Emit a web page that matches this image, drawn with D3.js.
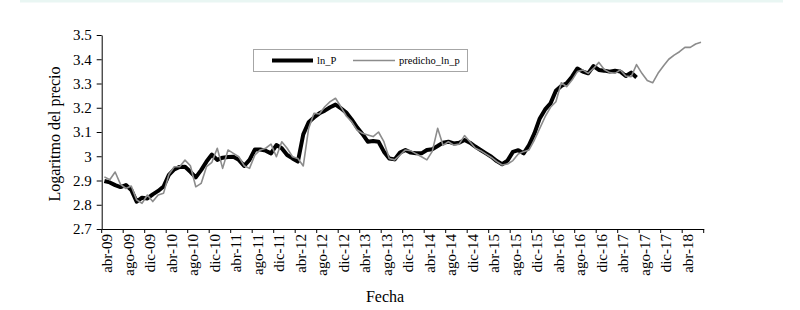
<!DOCTYPE html>
<html>
<head>
<meta charset="utf-8">
<script src="https://cdn.jsdelivr.net/npm/d3@7"></script>
<style>
  html, body { margin: 0; padding: 0; background: #fff; }
  svg { display: block; }
  svg text { font-family: "Liberation Serif", "Times New Roman", serif; }
</style>
</head>
<body>
<div id="chart"></div>
<script>
// month names used for the category labels (abr-09 ... jul-18)
const monthNames = ["ene", "feb", "mar", "abr", "may", "jun", "jul", "ago", "sep", "oct", "nov", "dic"];

// ln_P, monthly from abr-09 to jul-17
const lnP = [
  2.898, 2.892, 2.881, 2.873, 2.881, 2.861, 2.813, 2.829, 2.826, 2.843, 2.857, 2.875,
  2.923, 2.946, 2.956, 2.957, 2.936, 2.913, 2.943, 2.978, 3.007, 2.985, 2.994, 2.997,
  2.998, 2.985, 2.960, 2.985, 3.028, 3.028, 3.023, 3.012, 3.046, 3.033, 3.005, 2.991,
  2.978, 3.090, 3.140, 3.160, 3.177, 3.188, 3.202, 3.213, 3.198, 3.180, 3.152, 3.119,
  3.092, 3.060, 3.063, 3.060, 3.019, 2.991, 2.987, 3.015, 3.026, 3.015, 3.012, 3.012,
  3.026, 3.029, 3.042, 3.056, 3.060, 3.053, 3.056, 3.067, 3.056, 3.040, 3.026, 3.012,
  2.998, 2.980, 2.967, 2.982, 3.018, 3.025, 3.012, 3.046, 3.094, 3.156, 3.193, 3.218,
  3.270, 3.290, 3.301, 3.328, 3.362, 3.349, 3.342, 3.372, 3.356, 3.353, 3.349, 3.353,
  3.349, 3.331, 3.345, 3.325
];

// predicho_ln_p, monthly from abr-09 to jul-18
const predLnP = [
  2.915, 2.903, 2.935, 2.884, 2.867, 2.877, 2.820, 2.806, 2.840, 2.813, 2.840, 2.847,
  2.925, 2.957, 2.957, 2.984, 2.961, 2.874, 2.888, 2.957, 2.975, 3.033, 2.950, 3.026,
  3.012, 2.998, 2.961, 2.950, 3.005, 3.026, 3.033, 3.050, 2.998, 3.060, 3.033, 2.998,
  2.991, 2.960, 3.115, 3.177, 3.174, 3.204, 3.225, 3.239, 3.204, 3.166, 3.143, 3.108,
  3.095, 3.088, 3.081, 3.100, 3.060, 2.991, 2.985, 3.005, 3.026, 3.023, 3.010, 2.998,
  2.985, 3.020, 3.115, 3.045, 3.060, 3.046, 3.050, 3.085, 3.060, 3.033, 3.023, 3.009,
  2.995, 2.978, 2.964, 2.968, 2.982, 3.009, 3.019, 3.026, 3.067, 3.115, 3.163, 3.202,
  3.225, 3.303, 3.287, 3.314, 3.349, 3.356, 3.342, 3.362, 3.387, 3.358, 3.345, 3.342,
  3.356, 3.331, 3.328, 3.378, 3.342, 3.312, 3.303, 3.342, 3.372, 3.400, 3.417, 3.431,
  3.449, 3.449, 3.463, 3.470
];

const yTicks = [2.7, 2.8, 2.9, 3.0, 3.1, 3.2, 3.3, 3.4, 3.5];
const yTickLabels = ["2.7", "2.8", "2.9", "3", "3.1", "3.2", "3.3", "3.4", "3.5"];

// categories: one per month, starting at abr-09
const categories = predLnP.map((_, i) => {
  const m = (3 + i) % 12;
  const yr = 9 + Math.floor((3 + i) / 12);
  return monthNames[m] + "-" + String(yr).padStart(2, "0");
});

const W = 800, H = 310;
const plotLeft = 101.7, plotRight = 703.7, plotTop = 35, plotBottom = 229;
const serif = "Liberation Serif, Times New Roman, serif";

const svg = d3.select("#chart").append("svg")
  .attr("width", W)
  .attr("height", H)
  .attr("font-family", serif);

// faint band at the top of the page
svg.append("rect")
  .attr("x", 20).attr("y", 0)
  .attr("width", 763).attr("height", 2.5)
  .attr("fill", "#e9f6f3");

const x = d3.scaleBand()
  .domain(categories)
  .range([plotLeft, plotRight])
  .paddingInner(0)
  .paddingOuter(0);
const bw = x.bandwidth();

const y = d3.scaleLinear()
  .domain([2.7, 3.5])
  .range([plotBottom, plotTop]);

// Y axis
const yAxis = svg.append("g")
  .attr("transform", `translate(${plotLeft},0)`)
  .call(d3.axisLeft(y)
    .tickValues(yTicks)
    .tickFormat((d, i) => yTickLabels[i])
    .tickSize(5)
    .tickSizeOuter(0)
    .tickPadding(5))
  .attr("font-family", serif)
  .attr("font-size", 15);
yAxis.select(".domain").attr("stroke", "#000");
yAxis.selectAll(".tick line").attr("stroke", "#000");
yAxis.selectAll("text").attr("fill", "#000");

// X axis: labels every 4 months, tick marks on category boundaries
const labelCats = categories.filter((_, i) => i % 4 === 0 && i <= 108);
const xAxis = svg.append("g")
  .attr("transform", `translate(0,${plotBottom})`)
  .call(d3.axisBottom(x)
    .tickValues(labelCats)
    .tickSize(0)
    .tickSizeOuter(0))
  .attr("font-family", serif)
  .attr("font-size", 15);
xAxis.select(".domain").attr("stroke", "#000");
xAxis.selectAll("text")
  .attr("fill", "#000")
  .attr("text-anchor", "end")
  .attr("dy", null)
  .attr("y", 0)
  .attr("transform", "translate(8,5) rotate(-90)");

const boundaryCats = categories.filter((_, i) => i % 4 === 0);
const boundaryX = boundaryCats.map(c => x(c)).concat([x.range()[1]]);
svg.append("g")
  .selectAll("line")
  .data(boundaryX)
  .join("line")
  .attr("x1", d => d).attr("x2", d => d)
  .attr("y1", plotBottom).attr("y2", plotBottom + 4)
  .attr("stroke", "#000")
  .attr("stroke-width", 1);

// lines
const line = d3.line()
  .x((d, i) => x(categories[i]) + bw / 2)
  .y(d => y(d));

svg.append("path")
  .datum(lnP)
  .attr("d", line)
  .attr("fill", "none")
  .attr("stroke", "#000")
  .attr("stroke-width", 4)
  .attr("stroke-linejoin", "round");

svg.append("path")
  .datum(predLnP)
  .attr("d", line)
  .attr("fill", "none")
  .attr("stroke", "#8c8c8c")
  .attr("stroke-width", 1.6)
  .attr("stroke-linejoin", "round");

// axis titles
svg.append("text")
  .attr("transform", "translate(60,134) rotate(-90)")
  .attr("text-anchor", "middle")
  .attr("font-size", 16)
  .text("Logaritmo del precio");

svg.append("text")
  .attr("x", 385)
  .attr("y", 302)
  .attr("text-anchor", "middle")
  .attr("font-size", 16)
  .text("Fecha");

// legend
const legend = svg.append("g");
legend.append("rect")
  .attr("x", 253.5).attr("y", 49.5)
  .attr("width", 214).attr("height", 22)
  .attr("fill", "#fff")
  .attr("stroke", "#a6a6a6")
  .attr("stroke-width", 1);

const legendItems = [
  { name: "ln_P", color: "#000", width: 4, x0: 272, x1: 313, tx: 317 },
  { name: "predicho_ln_p", color: "#8c8c8c", width: 1.6, x0: 353, x1: 395, tx: 399 }
];
legendItems.forEach(d => {
  legend.append("line")
    .attr("x1", d.x0).attr("x2", d.x1)
    .attr("y1", 60.5).attr("y2", 60.5)
    .attr("stroke", d.color)
    .attr("stroke-width", d.width);
  legend.append("text")
    .attr("x", d.tx).attr("y", 64)
    .attr("font-size", 10.5)
    .text(d.name);
});
</script>
</body>
</html>
